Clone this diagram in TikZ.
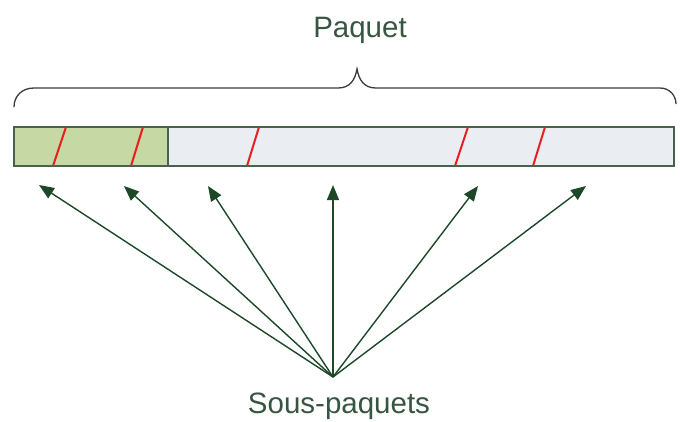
\documentclass[tikz,border=0pt]{standalone}
\usepackage{fontspec}
\setmainfont{Liberation Sans}
\usetikzlibrary{arrows.meta}
\definecolor{txtc}{RGB}{55,85,65}
\definecolor{arrc}{RGB}{28,72,40}
\definecolor{barborder}{RGB}{72,98,78}
\definecolor{greenfill}{RGB}{198,216,164}
\definecolor{greyfill}{RGB}{234,238,243}
\definecolor{slashc}{RGB}{232,30,30}
\definecolor{bracec}{RGB}{60,60,60}
\tikzset{
  lbl/.style={font=\fontsize{29.5}{34}\selectfont, text=txtc, inner sep=0pt},
  subarrow/.style={draw=arrc, line width=1.4pt, -{Triangle[length=15pt,width=12pt]}},
  slash/.style={draw=slashc, line width=2pt},
  segbox/.style={draw=barborder, line width=2pt}
}
\begin{document}
\begin{tikzpicture}[x=1pt,y=-1pt]
\useasboundingbox (0,0) rectangle (680,421);
% brace
\draw[bracec, line width=1.3pt] (14,107) .. controls (14,96) and (22,88) .. (34,88)
  -- (338,88) .. controls (350,88) and (355,80) .. (357,69)
  .. controls (359,80) and (364,88) .. (376,88)
  -- (660,88) .. controls (670,88) and (676,96) .. (676,104);
\node[lbl] (paquet) at (360,30) {Paquet};
% bar
\fill[greenfill] (14,127) rectangle (168,166);
\fill[greyfill] (168,127) rectangle (674,166);
\draw[slash] (53,166) -- (66,127);
\draw[slash] (131,166) -- (143,127);
\draw[slash] (247,166) -- (259,127);
\draw[slash] (455,166) -- (468,127);
\draw[slash] (533,166) -- (545,127);
\draw[segbox] (14,127) rectangle (674,166);
\draw[segbox] (168,127) -- (168,166);
% arrows
\coordinate (src) at (333,377);
\coordinate (t1) at (39,185);
\coordinate (t2) at (124,186);
\coordinate (t3) at (208,186);
\coordinate (t4) at (333,185);
\coordinate (t5) at (478,186);
\coordinate (t6) at (586,186);
\foreach \t in {t1,t2,t3,t4,t5,t6} \draw[subarrow] (src) -- (\t);
\node[lbl] (sous) at (339,406) {Sous-paquets};
\end{tikzpicture}
\end{document}
